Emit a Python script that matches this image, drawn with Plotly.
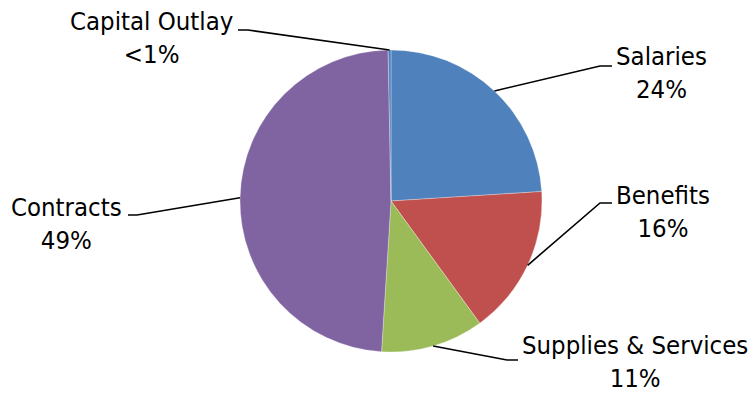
import math
import plotly.graph_objects as go

# ---- data ----
categories = ["Salaries", "Benefits", "Supplies & Services", "Contracts", "Capital Outlay"]
values = [24.0, 16.0, 11.0, 48.7, 0.3]
pct_labels = ["24%", "16%", "11%", "49%", "<1%"]
colors = ["#4F81BD", "#C0504D", "#9BBB59", "#8064A2", "#4F81BD"]

# ---- layout constants (pixels) ----
W, H = 753, 394
CX, CY, R = 391, 201, 151
# label block centers and leader elbow (elbow point, end of horizontal tick)
label_pos = [(661, 73), (663, 211), (635, 361), (66, 223), (151, 38)]
elbows = [((600, 66), (612, 66)),
          ((600, 203), (612, 203)),
          ((507, 360), (518, 360)),
          ((137, 215), (128, 215)),
          ((248, 30), (238, 30))]

FONT = "Tahoma, DejaVu Sans Condensed, DejaVu Sans, sans-serif"

def px(x):
    return x / W

def py(y):
    return 1 - y / H

fig = go.Figure(go.Pie(
    labels=categories,
    values=values,
    sort=False,
    direction="clockwise",
    rotation=0,
    textinfo="none",
    hoverinfo="label+percent",
    marker=dict(colors=colors, line=dict(color="rgba(255,255,255,0.4)", width=0.75)),
    domain=dict(x=[px(CX - R), px(CX + R)], y=[py(CY + R), py(CY - R)]),
    showlegend=False,
))

total = sum(values)
shapes = []
annotations = []
cum = 0.0
for i, (cat, v) in enumerate(zip(categories, values)):
    mid = (cum + v / 2) / total * 2 * math.pi
    cum += v
    ex = CX + R * math.sin(mid)
    ey = CY - R * math.cos(mid)
    (bx, by), (tx, ty) = elbows[i]
    shapes.append(dict(
        type="path", xref="paper", yref="paper",
        path=f"M {px(ex)},{py(ey)} L {px(bx)},{py(by)} L {px(tx)},{py(ty)}",
        line=dict(color="black", width=1.6),
    ))
    lx, ly = label_pos[i]
    annotations.append(dict(
        x=px(lx), y=py(ly), xref="paper", yref="paper",
        text=f"{cat}<br>{pct_labels[i]}", showarrow=False,
        xanchor="center", yanchor="middle", align="center",
        borderpad=0,
        font=dict(family=FONT, size=25.5, color="black"),
    ))

fig.update_layout(
    width=W, height=H,
    margin=dict(l=0, r=0, t=0, b=0),
    paper_bgcolor="white",
    plot_bgcolor="white",
    shapes=shapes,
    annotations=annotations,
)

fig.write_html("out.html")
